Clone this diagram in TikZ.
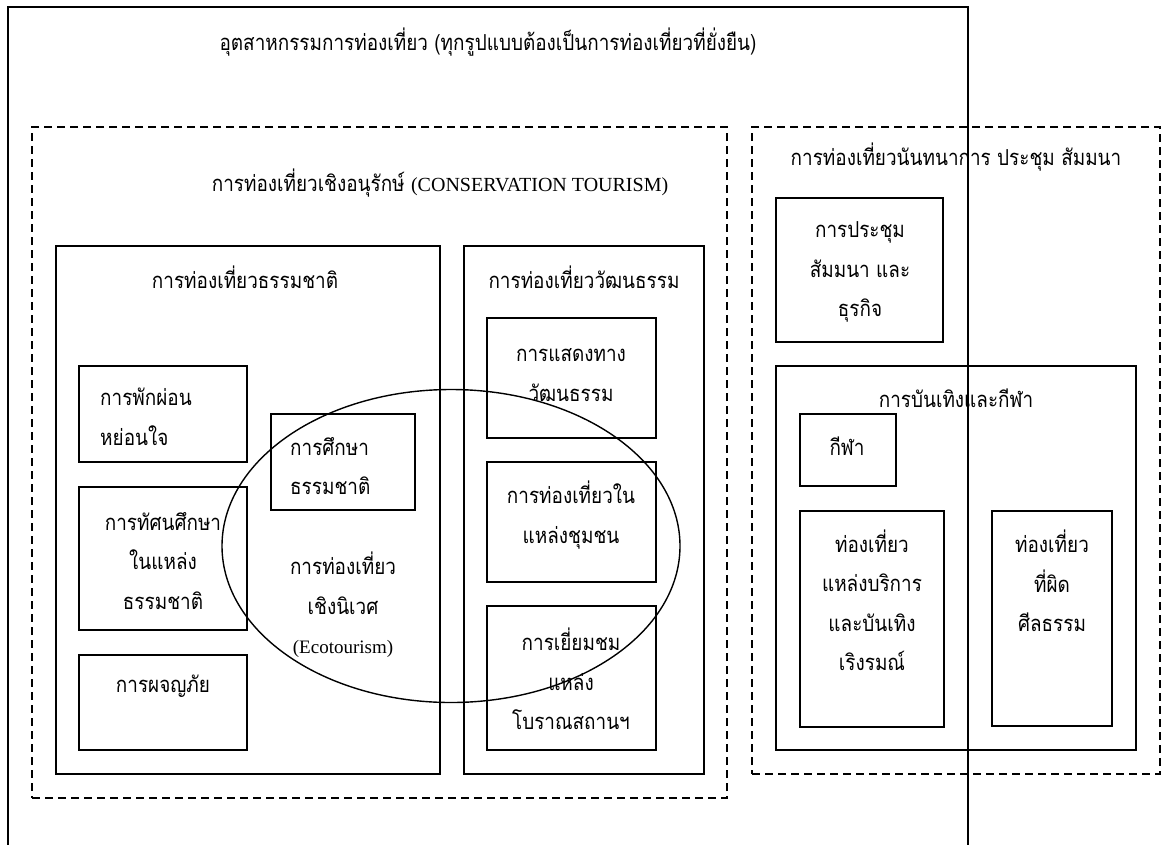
\documentclass[tikz,border=0pt]{standalone}
\usepackage{fontspec}
\setmainfont{Liberation Serif}
\newfontfamily\thai[Script=Thai,FakeStretch=0.86]{Loma}
\usetikzlibrary{shapes.geometric}
\begin{document}
\begin{tikzpicture}[x=1pt,y=-1pt,
  box/.style={draw, line width=1.6pt, inner sep=0pt, outer sep=0pt, anchor=north west},
  dbox/.style={box, dash pattern=on 8pt off 5pt},
  txt/.style={inner sep=0pt, align=center, font=\thai\fontsize{22}{39.5}\selectfont},
  ltxt/.style={txt, align=left, anchor=west}]
\useasboundingbox (0,0) rectangle (1164,844);
% outer frame (open at the bottom)
\node[box, minimum width=960pt, minimum height=880pt] (outer) at (8,7) {};
\node[txt] (t-outer) at (488,42) {อุตสาหกรรมการท่องเที่ยว (ทุกรูปแบบต้องเป็นการท่องเที่ยวที่ยั่งยืน)};
% conservation tourism
\node[dbox, minimum width=695pt, minimum height=671pt] (cons) at (32,127) {};
\node[txt] (t-cons) at (440,183) {การท่องเที่ยวเชิงอนุรักษ์ {\rmfamily\fontsize{20}{22}\selectfont (CONSERVATION TOURISM)}};
% nature tourism
\node[box, minimum width=384pt, minimum height=528pt] (nat) at (56,246) {};
\node[txt] (t-nat) at (245,277) {การท่องเที่ยวธรรมชาติ};
\node[box, minimum width=168pt, minimum height=96pt] (relax) at (79,366) {};
\node[ltxt] (t-relax) at (100,417) {การพักผ่อน\\หย่อนใจ};
\node[box, minimum width=168pt, minimum height=143pt] (study) at (79,487) {};
\node[txt] (t-study) at (163,561) {การทัศนศึกษา\\ในแหล่ง\\ธรรมชาติ};
\node[box, minimum width=168pt, minimum height=95pt] (adv) at (79,655) {};
\node[txt] (t-adv) at (163,686) {การผจญภัย};
\node[box, minimum width=144pt, minimum height=96pt] (natstudy) at (271,414) {};
\node[ltxt] (t-natstudy) at (290,466) {การศึกษา\\ธรรมชาติ};
% culture tourism
\node[box, minimum width=240pt, minimum height=528pt] (cult) at (464,246) {};
\node[txt] (t-cult) at (584,277) {การท่องเที่ยววัฒนธรรม};
\node[box, minimum width=169pt, minimum height=120pt] (perf) at (487,318) {};
\node[txt] (t-perf) at (571,375) {การแสดงทาง\\วัฒนธรรม};
\node[box, minimum width=169pt, minimum height=120pt] (comm) at (487,462) {};
\node[txt] (t-comm) at (571,515) {การท่องเที่ยวใน\\แหล่งชุมชน};
\node[box, minimum width=169pt, minimum height=144pt] (anc) at (487,606) {};
\node[txt] (t-anc) at (571,679) {การเยี่ยมชม\\แหล่ง\\โบราณสถานฯ};
% ecotourism
\node[draw, ellipse, line width=1.4pt, inner sep=0pt, minimum width=458pt, minimum height=313pt] (eco) at (451,546) {};
\node[txt] (t-eco) at (343,605) {การท่องเที่ยว\\เชิงนิเวศ\\{\rmfamily\fontsize{19}{21}\selectfont (Ecotourism)}};
% recreation
\node[dbox, minimum width=408pt, minimum height=647pt] (rec) at (752,127) {};
\node[txt] (t-rec) at (956,157) {การท่องเที่ยวนันทนาการ ประชุม สัมมนา};
\node[box, minimum width=167pt, minimum height=144pt] (meet) at (776,198) {};
\node[txt] (t-meet) at (860,272) {การประชุม\\สัมมนา และ\\ธุรกิจ};
\node[box, minimum width=360pt, minimum height=384pt] (ent) at (776,366) {};
\node[txt] (t-ent) at (956,398) {การบันเทิงและกีฬา};
\node[box, minimum width=96pt, minimum height=72pt] (sport) at (800,414) {};
\node[txt] (t-sport) at (847,446) {กีฬา};
\node[box, minimum width=144pt, minimum height=216pt] (serv) at (800,511) {};
\node[txt] (t-serv) at (872,600) {ท่องเที่ยว\\แหล่งบริการ\\และบันเทิง\\เริงรมณ์};
\node[box, minimum width=120pt, minimum height=215pt] (imm) at (992,511) {};
\node[txt] (t-imm) at (1052,581) {ท่องเที่ยว\\ที่ผิด\\ศีลธรรม};
\end{tikzpicture}
\end{document}
